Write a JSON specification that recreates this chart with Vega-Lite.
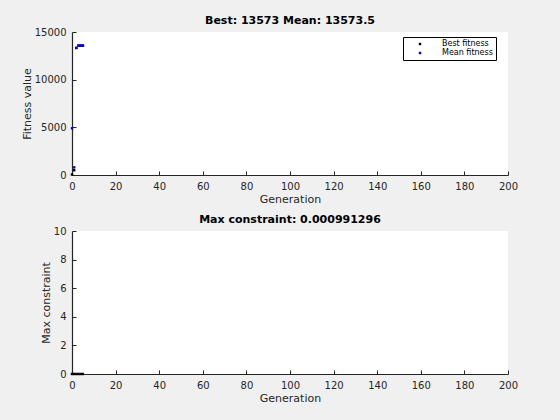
{
  "$schema": "https://vega.github.io/schema/vega-lite/v6.json",
  "background": "#f0f0f0",
  "padding": {"left": 21, "top": 15, "right": 42, "bottom": 17},
  "spacing": 10,
  "config": {
    "font": "DejaVu Sans",
    "view": {"fill": "white", "stroke": null},
    "axis": {
      "domainColor": "#262626", "tickColor": "#262626", "labelColor": "#262626", "titleColor": "#262626",
      "labelFont": "DejaVu Sans", "titleFont": "DejaVu Sans", "labelFontSize": 10, "titleFontSize": 11, "titleFontWeight": "normal",
      "grid": false, "tickSize": -4, "labelPadding": 10, "domainWidth": 1.2, "labelFlush": false
    },
    "title": {"font": "DejaVu Sans", "fontSize": 11, "fontWeight": "bold", "color": "black", "offset": 1}
  },
  "vconcat": [
    {
      "width": 436, "height": 143,
      "title": "Best: 13573 Mean: 13573.5",
      "data": {"values": [
        {"gen": 0, "value": 50, "series": "Best fitness"},
        {"gen": 1, "value": 500, "series": "Best fitness"},
        {"gen": 2, "value": 13330, "series": "Best fitness"},
        {"gen": 3, "value": 13573, "series": "Best fitness"},
        {"gen": 4, "value": 13573, "series": "Best fitness"},
        {"gen": 5, "value": 13573, "series": "Best fitness"},
        {"gen": 0, "value": 4900, "series": "Mean fitness"},
        {"gen": 1, "value": 800, "series": "Mean fitness"},
        {"gen": 2, "value": 13330, "series": "Mean fitness"},
        {"gen": 3, "value": 13573, "series": "Mean fitness"},
        {"gen": 4, "value": 13573, "series": "Mean fitness"},
        {"gen": 5, "value": 13573.5, "series": "Mean fitness"}
      ]},
      "mark": {"type": "point", "filled": true, "shape": "square", "size": 6, "opacity": 1},
      "encoding": {
        "x": {"field": "gen", "type": "quantitative", "scale": {"domain": [0, 200], "nice": false},
              "axis": {"title": "Generation", "values": [0,20,40,60,80,100,120,140,160,180,200], "titlePadding": 2}},
        "y": {"field": "value", "type": "quantitative", "scale": {"domain": [0, 15000], "nice": false},
              "axis": {"title": "Fitness value", "values": [0,5000,10000,15000], "format": "d", "titlePadding": 2}},
        "color": {"field": "series", "type": "nominal",
                  "scale": {"domain": ["Best fitness", "Mean fitness"], "range": ["black", "#0000ff"]},
                  "legend": {"title": null, "orient": "none", "legendX": 331, "legendY": 5, "fillColor": "white", "strokeColor": "black",
                             "padding": 3, "labelFont": "DejaVu Sans", "labelFontSize": 8, "labelColor": "black",
                             "symbolType": "square", "symbolSize": 6, "rowPadding": 1, "symbolOffset": 10, "labelOffset": 18}},
        "order": {"field": "series", "type": "nominal"}
      }
    },
    {
      "width": 436, "height": 143,
      "title": "Max constraint: 0.000991296",
      "data": {"values": [
        {"gen": 0, "constraint": 0.001},
        {"gen": 1, "constraint": 0.001},
        {"gen": 2, "constraint": 0.001},
        {"gen": 3, "constraint": 0.001},
        {"gen": 4, "constraint": 0.001},
        {"gen": 5, "constraint": 0.000991296}
      ]},
      "mark": {"type": "point", "filled": true, "shape": "square", "size": 6, "opacity": 1, "color": "black"},
      "encoding": {
        "x": {"field": "gen", "type": "quantitative", "scale": {"domain": [0, 200], "nice": false},
              "axis": {"title": "Generation", "values": [0,20,40,60,80,100,120,140,160,180,200], "titlePadding": 2}},
        "y": {"field": "constraint", "type": "quantitative", "scale": {"domain": [0, 10], "nice": false},
              "axis": {"title": "Max constraint", "values": [0,2,4,6,8,10], "titlePadding": 2}}
      }
    }
  ]
}
